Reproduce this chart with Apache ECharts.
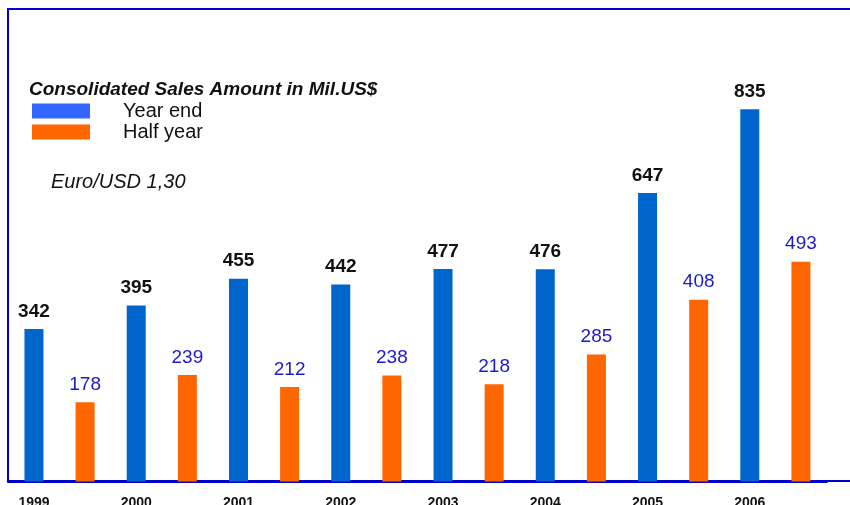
<!DOCTYPE html>
<html>
<head>
<meta charset="utf-8">
<script src="https://cdn.jsdelivr.net/npm/echarts@6/dist/echarts.min.js"></script>
<style>
  html, body { margin: 0; padding: 0; background: #fff; }
  #chart { width: 850px; height: 505px; }
</style>
</head>
<body>
<div id="chart"></div>
<script>
var years = ['1999', '2000', '2001', '2002', '2003', '2004', '2005', '2006'];
var yearEnd = [342, 395, 455, 442, 477, 476, 647, 835];
var halfYear = [178, 239, 212, 238, 218, 285, 408, 493];

// each year gets two slots: year end, then half year
var slots = [];
var blueData = [];
var orangeData = [];
years.forEach(function(y, i) {
    slots.push(y);
    slots.push(y + ' H');
    blueData.push(yearEnd[i], null);
    orangeData.push(null, halfYear[i]);
});

var font = '"Liberation Sans", Arial, sans-serif';
var chart = echarts.init(document.getElementById('chart'));

chart.setOption({
    animation: false,
    backgroundColor: '#fff',
    title: [{
        text: 'Consolidated Sales Amount in Mil.US$',
        left: 24,
        top: 75,
        textStyle: { fontFamily: font, fontSize: 19, fontWeight: 'bold', fontStyle: 'italic', color: '#111' }
    }, {
        text: 'Euro/USD 1,30',
        left: 46,
        top: 167,
        textStyle: { fontFamily: font, fontSize: 20, fontWeight: 'normal', fontStyle: 'italic', color: '#111' }
    }],
    legend: {
        orient: 'vertical',
        left: 27,
        top: 96,
        itemWidth: 58,
        itemHeight: 15,
        itemGap: 1,
        icon: 'rect',
        textStyle: { fontFamily: font, fontSize: 20, lineHeight: 20, color: '#111', padding: [0, 0, 0, 28] },
        data: [
            { name: 'Year end', itemStyle: { color: '#3366ff' } },
            { name: 'Half year', itemStyle: { color: '#ff6600' } }
        ]
    },
    graphic: [{
        type: 'rect',
        shape: { x: 8, y: 9, width: 900, height: 472 },
        style: { fill: 'none', stroke: '#0000cc', lineWidth: 2 },
        silent: true
    }],
    grid: { left: 8.4, right: 23.5, top: 9, bottom: 23.5, outerBoundsMode: 'none', containLabel: false },
    xAxis: {
        type: 'category',
        data: slots,
        axisTick: { show: false },
        axisLine: { lineStyle: { color: '#0000cc', width: 3 } },
        axisLabel: {
            interval: 0,
            margin: 15,
            fontFamily: font,
            fontSize: 14,
            fontWeight: 'bold',
            color: '#111',
            formatter: function(v, i) { return i % 2 ? '' : v; }
        }
    },
    yAxis: {
        type: 'value',
        min: 0,
        max: 1060,
        show: false
    },
    series: [{
        name: 'Year end',
        type: 'bar',
        data: blueData,
        barWidth: 19,
        barGap: '-100%',
        itemStyle: { color: '#0066cc' },
        label: {
            show: true,
            position: 'top',
            distance: 8,
            fontFamily: font,
            fontSize: 19,
            fontWeight: 'bold',
            color: '#111'
        }
    }, {
        name: 'Half year',
        type: 'bar',
        data: orangeData,
        barWidth: 19,
        itemStyle: { color: '#ff6600' },
        label: {
            show: true,
            position: 'top',
            distance: 8,
            fontFamily: font,
            fontSize: 19,
            color: '#1a1acc'
        }
    }]
});
</script>
</body>
</html>
